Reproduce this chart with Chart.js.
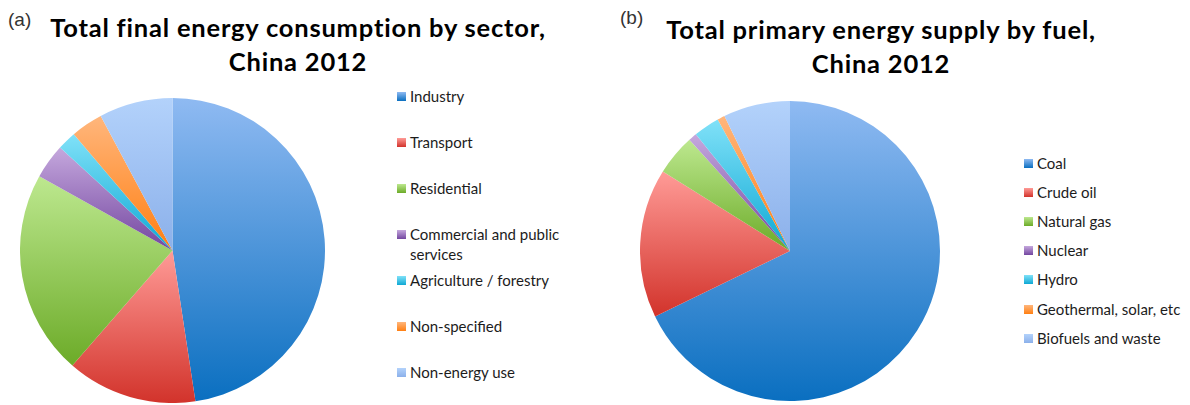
<!DOCTYPE html>
<html>
<head>
<meta charset="utf-8">
<script src="https://cdn.jsdelivr.net/npm/chart.js@4.4.1/dist/chart.umd.min.js"></script>
<style>
  body { margin: 0; background: #fff; width: 1190px; height: 405px; position: relative; overflow: hidden; font-family: Lato, "Open Sans", sans-serif; }
  .tag { position: absolute; font-family: "Liberation Sans", Arial, sans-serif; font-size: 19px; color: #333; }
  .title { position: absolute; font-weight: bold; font-size: 25.5px; letter-spacing: 0.8px; line-height: 34px; text-align: center; color: #000; }
  .pie { position: absolute; }
  .legend { position: absolute; font-size: 15px; line-height: 20px; color: #1c1c1c; }
  .legend .item { position: relative; padding-left: 13px; }
  .legend .swatch { position: absolute; left: 0; top: 6px; width: 9px; height: 9px; }
</style>
</head>
<body>

<div class="tag" style="left:8px; top:9px;">(a)</div>
<div class="title" style="left:0; width:596px; top:10px;">Total final energy consumption by sector,<br>China 2012</div>
<canvas id="sector" class="pie" width="305" height="305" style="left:20px; top:98px;"></canvas>
<div id="sectorLegend" class="legend" style="left:397px; top:85.7px; width:178px;"></div>

<div class="tag" style="left:620px; top:7px;">(b)</div>
<div class="title" style="left:600px; width:562px; top:12px;">Total primary energy supply by fuel,<br>China 2012</div>
<canvas id="fuel" class="pie" width="300" height="300" style="left:640px; top:101px;"></canvas>
<div id="fuelLegend" class="legend" style="left:1024px; top:153.3px; width:170px;"></div>

<script>
// Final energy consumption by sector, China 2012 (% share)
const sectorLabels = ['Industry', 'Transport', 'Residential', 'Commercial and public services',
  'Agriculture / forestry', 'Non-specified', 'Non-energy use'];
const sectorShares = [47.6, 13.8, 21.7, 3.7, 2.0, 3.4, 7.8];

// Primary energy supply by fuel, China 2012 (% share)
const fuelLabels = ['Coal', 'Crude oil', 'Natural gas', 'Nuclear', 'Hydro',
  'Geothermal, solar, etc', 'Biofuels and waste'];
const fuelShares = [67.8, 16.1, 4.4, 0.9, 2.8, 0.8, 7.2];

// Each slice fades from a light tint at its top to a deep shade at its bottom
const sliceTop    = ['#8fbaf2', '#ff9b97', '#bde88f', '#c5a8dd', '#80e1f8', '#ffb67c', '#b3d2fb'];
const sliceBottom = ['#0a6fc0', '#d2332b', '#6cab28', '#7346a0', '#0ea8d4', '#ff7f12', '#8bb0ea'];

const sliceGradient = {
  id: 'sliceGradient',
  beforeDatasetsDraw(chart) {
    const ctx = chart.ctx;
    chart.getDatasetMeta(0).data.forEach((arc, i) => {
      const { x, y, startAngle, endAngle, outerRadius } =
        arc.getProps(['x', 'y', 'startAngle', 'endAngle', 'outerRadius'], true);
      let top = y, bottom = y;
      const angles = [startAngle, endAngle];
      // the arc may pass through 12 o'clock or 6 o'clock
      [-Math.PI / 2, Math.PI / 2, 3 * Math.PI / 2].forEach(a => {
        if (a > startAngle && a < endAngle) angles.push(a);
      });
      angles.forEach(a => {
        const py = y + outerRadius * Math.sin(a);
        top = Math.min(top, py);
        bottom = Math.max(bottom, py);
      });
      const g = ctx.createLinearGradient(0, top, 0, bottom);
      g.addColorStop(0, sliceTop[i]);
      g.addColorStop(1, sliceBottom[i]);
      arc.options.backgroundColor = g;
    });
  }
};

function drawPie(id, labels, values) {
  return new Chart(document.getElementById(id), {
    type: 'pie',
    data: {
      labels: labels,
      datasets: [{
        data: values,
        backgroundColor: sliceBottom,
        borderWidth: 0
      }]
    },
    options: {
      responsive: false,
      animation: false,
      events: [],
      layout: { padding: 0 },
      plugins: {
        legend: { display: false },
        tooltip: { enabled: false }
      }
    },
    plugins: [sliceGradient]
  });
}

// legend entries sit in fixed-height slots; a wrapped label spills into the gap below
function buildLegend(id, labels, slot) {
  const box = document.getElementById(id);
  labels.forEach((text, i) => {
    const item = document.createElement('div');
    item.className = 'item';
    item.style.height = slot + 'px';
    const sw = document.createElement('span');
    sw.className = 'swatch';
    sw.style.background = `linear-gradient(${sliceTop[i]}, ${sliceBottom[i]})`;
    item.appendChild(sw);
    item.appendChild(document.createTextNode(text));
    box.appendChild(item);
  });
}

drawPie('sector', sectorLabels, sectorShares);
drawPie('fuel', fuelLabels, fuelShares);
buildLegend('sectorLegend', sectorLabels, 46.1);
buildLegend('fuelLegend', fuelLabels, 29.05);
</script>
</body>
</html>
